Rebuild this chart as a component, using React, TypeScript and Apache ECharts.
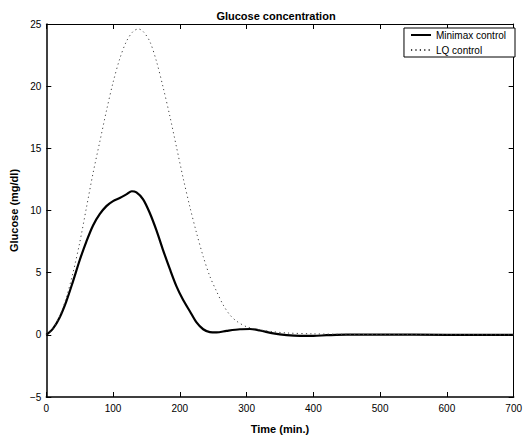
import React, { useEffect, useRef } from "react";
import * as echarts from "echarts";

const timeMinimax = [0, 10, 20, 30, 40, 50, 60, 70, 80, 90, 100, 110, 120, 128, 135, 145, 155, 165, 175, 185, 195, 205, 215, 225, 235, 245, 255, 270, 290, 305, 320, 340, 360, 380, 400, 420, 450, 500, 600, 700];
const glucoseMinimax = [0, 0.5, 1.4, 2.7, 4.3, 6.0, 7.5, 8.8, 9.7, 10.35, 10.75, 11.0, 11.3, 11.55, 11.45, 10.9, 9.8, 8.4, 6.8, 5.3, 3.9, 2.8, 1.9, 1.0, 0.45, 0.22, 0.2, 0.32, 0.45, 0.47, 0.35, 0.12, -0.02, -0.08, -0.08, -0.03, 0.02, 0.02, 0, 0];

const timeLQ = [0, 10, 20, 30, 40, 50, 60, 70, 80, 90, 100, 110, 120, 130, 138, 145, 155, 165, 175, 185, 195, 205, 215, 225, 235, 245, 255, 265, 275, 285, 300, 320, 340, 360, 400, 450, 500, 600, 700];
const glucoseLQ = [0, 0.5, 1.5, 3.0, 5.0, 7.4, 10.2, 13.0, 15.5, 18.0, 20.3, 22.2, 23.6, 24.4, 24.6, 24.4, 23.6, 22.0, 19.9, 17.6, 15.1, 12.6, 10.3, 8.2, 6.3, 4.7, 3.5, 2.4, 1.6, 1.1, 0.65, 0.4, 0.25, 0.15, 0.08, 0.04, 0.02, 0.01, 0];

const seriesNames = ["Minimax control", "LQ control"];
const titleText = "Glucose concentration";
const xName = "Time (min.)";
const yName = "Glucose (mg/dl)";

const FONT = "Liberation Sans, Arial, Helvetica, sans-serif";

export default function App() {
  const ref = useRef<HTMLDivElement>(null);
  useEffect(() => {
    if (!ref.current) return;
    const chart = echarts.init(ref.current, null, { renderer: "svg" });
    const xMain = {
      type: "value",
      min: 0,
      max: 700,
      interval: 100,
      position: "bottom",
      name: xName,
      nameLocation: "middle",
      nameGap: 26,
      nameTextStyle: { fontFamily: FONT, fontSize: 11, fontWeight: "bold", color: "#000" },
      axisLine: { show: true, onZero: false, lineStyle: { color: "#000", width: 1.5 } },
      axisTick: { show: true, inside: true, length: 5, lineStyle: { color: "#000" } },
      axisLabel: { fontFamily: FONT, fontSize: 10, color: "#000", margin: 6 },
      splitLine: { show: false },
    };
    const xTop = {
      type: "value",
      min: 0,
      max: 700,
      interval: 100,
      position: "top",
      axisLine: { show: true, onZero: false, lineStyle: { color: "#000", width: 1 } },
      axisTick: { show: true, inside: true, length: 5, lineStyle: { color: "#000" } },
      axisLabel: { show: false },
      splitLine: { show: false },
    };
    const yMain = {
      type: "value",
      min: -5,
      max: 25,
      interval: 5,
      position: "left",
      name: yName,
      nameLocation: "middle",
      nameGap: 20,
      nameTextStyle: { fontFamily: FONT, fontSize: 11, fontWeight: "bold", color: "#000" },
      axisLine: { show: true, onZero: false, lineStyle: { color: "#000", width: 1.5 } },
      axisTick: { show: true, inside: true, length: 5, lineStyle: { color: "#000" } },
      axisLabel: {
        fontFamily: FONT,
        fontSize: 10,
        color: "#000",
        margin: 5,
        formatter: (v: number) => String(v).replace("-", "\u2212"),
      },
      splitLine: { show: false },
    };
    const yRight = {
      type: "value",
      min: -5,
      max: 25,
      interval: 5,
      position: "right",
      axisLine: { show: true, onZero: false, lineStyle: { color: "#000", width: 1 } },
      axisTick: { show: true, inside: true, length: 5, lineStyle: { color: "#000" } },
      axisLabel: { show: false },
      splitLine: { show: false },
    };
    chart.setOption({
      animation: false,
      backgroundColor: "#fff",
      title: {
        text: titleText,
        left: 276,
        top: 10,
        textAlign: "center",
        padding: 0,
        textStyle: { fontFamily: FONT, fontSize: 11, fontWeight: "bold", color: "#000" },
      },
      grid: { left: 40, right: 8, top: 24, bottom: 40, containLabel: false },
      xAxis: [xMain, xTop],
      yAxis: [yMain, yRight],
      legend: {
        orient: "vertical",
        right: 10,
        top: 28,
        padding: [2, 9, 2, 6],
        itemGap: 5,
        itemWidth: 20,
        itemHeight: 10,
        borderColor: "#000",
        borderWidth: 1,
        borderRadius: 0,
        backgroundColor: "#fff",
        itemStyle: { opacity: 0 },
        textStyle: { fontFamily: FONT, fontSize: 10, color: "#000" },
        data: seriesNames,
      },
      series: [
        {
          name: seriesNames[0],
          type: "line",
          xAxisIndex: 0,
          yAxisIndex: 0,
          symbol: "none",
          smooth: 0.3,
          data: timeMinimax.map((t, i) => [t, glucoseMinimax[i]]),
          lineStyle: { color: "#000", width: 2.2 },
          itemStyle: { color: "#000" },
        },
        {
          name: seriesNames[1],
          type: "line",
          xAxisIndex: 0,
          yAxisIndex: 0,
          symbol: "none",
          smooth: 0.3,
          data: timeLQ.map((t, i) => [t, glucoseLQ[i]]),
          lineStyle: { color: "#444", width: 1, type: [1.2, 3.2] },
          itemStyle: { color: "#444" },
        },
      ],
    });
    return () => chart.dispose();
  }, []);
  return <div ref={ref} style={{ width: 525, height: 439, position: "absolute", left: 0, top: 0 }} />;
}
